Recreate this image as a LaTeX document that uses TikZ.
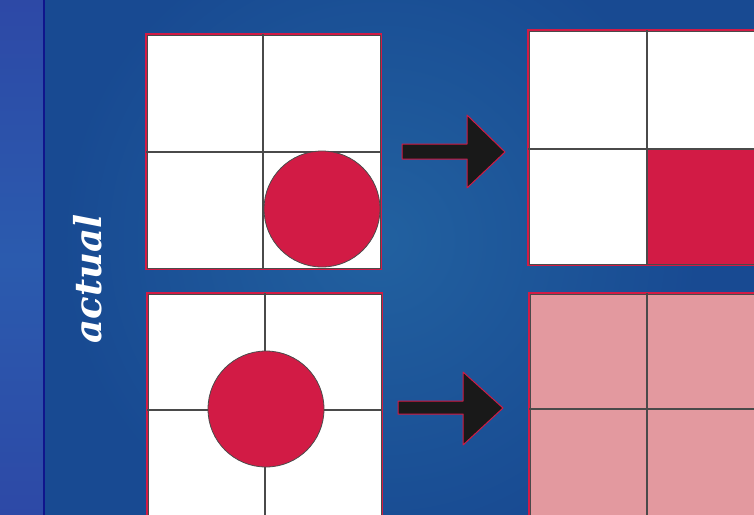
\documentclass[tikz,border=0pt]{standalone}
\usepackage{fontspec}
\newfontfamily\labfont{DejaVu Serif}
\definecolor{bgblue}{HTML}{184A92}
\definecolor{bgleft}{HTML}{2D48A6}
\definecolor{bgleftmid}{HTML}{2B5BAE}
\definecolor{navy}{HTML}{10158C}
\definecolor{crim}{HTML}{D21B45}
\definecolor{rosy}{HTML}{E3999F}
\definecolor{gridgray}{HTML}{4A4A4A}
\tikzset{
  cellbox/.style={fill=white, draw=crim, line width=1.6pt},
  gridline/.style={draw=gridgray, line width=1.3pt},
  ball/.style={fill=crim, draw=black!70, line width=0.8pt},
  fatarrow/.style={fill=black!90, draw=crim, line width=1pt, line join=round},
}
\begin{document}
\begin{tikzpicture}[x=1pt,y=-1pt]
\useasboundingbox (0,0) rectangle (754,514);
\clip (0,0) rectangle (754,514);
% background
\fill[bgblue] (-10,-10) rectangle (770,530);
\shade[inner color=bgblue!92!cyan!95!white, outer color=bgblue] (380,240) circle (320);
\shade[top color=bgleft, bottom color=bgleft, middle color=bgleftmid] (-10,-10) rectangle (44,530);
\draw[navy, line width=1.5pt] (44,-10) -- (44,530);
% label
\node[rotate=90, text=white, font=\labfont\bfseries\itshape\fontsize{37}{37}\selectfont] (lab) at (88,279) {actual};
% top-left box
\draw[cellbox] (146,34) rectangle (381,269);
\draw[gridline] (263,34) -- (263,269) (146,152) -- (381,152);
\draw[ball] (322,209) circle (58);
\draw[gridgray, line width=0.8pt] (147,35) rectangle (380,268);
% bottom-left box
\draw[cellbox] (147,293) rectangle (382,560);
\draw[gridline] (265,293) -- (265,560) (147,410) -- (382,410);
\draw[ball] (266,409) circle (58);
\draw[gridgray, line width=0.8pt] (148,294) rectangle (381,559);
% top-right box
\draw[cellbox] (528,30) rectangle (800,265);
\fill[crim] (647,149) rectangle (800,264);
\draw[gridline] (647,30) -- (647,265) (528,149) -- (800,149);
\draw[gridgray, line width=0.8pt] (529,31) rectangle (800,264);
% bottom-right box
\draw[cellbox, fill=rosy] (529,293) rectangle (800,560);
\draw[gridline] (647,293) -- (647,560) (529,409) -- (800,409);
\draw[gridgray, line width=0.8pt] (530,294) rectangle (800,559);
% arrows
\draw[fatarrow] (402,144) -- (467,144) -- (467,115) -- (505,152) -- (467,188) -- (467,159) -- (402,159) -- cycle;
\draw[fatarrow] (398,401) -- (463,401) -- (463,372) -- (503,408) -- (463,445) -- (463,414) -- (398,414) -- cycle;
\end{tikzpicture}
\end{document}
